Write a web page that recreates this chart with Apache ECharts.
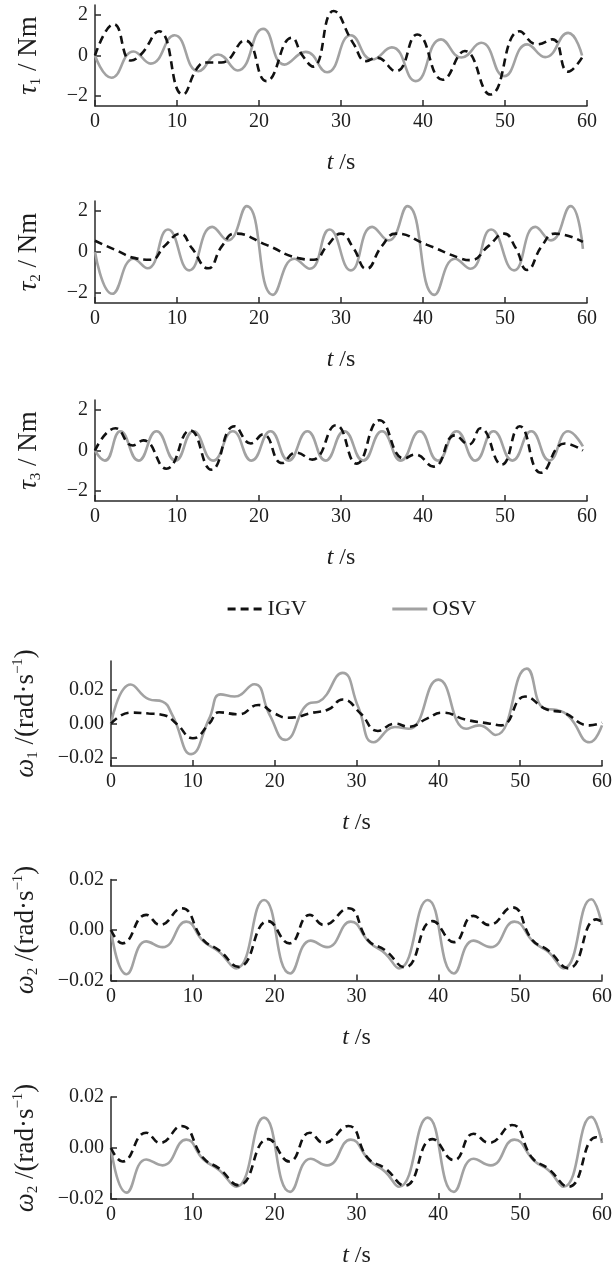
<!DOCTYPE html>
<html><head><meta charset="utf-8">
<script src="https://cdn.jsdelivr.net/npm/echarts@6/dist/echarts.min.js"></script>
<style>html,body{margin:0;padding:0;background:#fff}#c{width:615px;height:1270px}</style>
</head><body><div id="c"></div>
<script>
// ---------- data ----------
const xTicks = [0, 10, 20, 30, 40, 50, 60];
const tauTicks = [-2, 0, 2];
const omegaTicks = [-0.02, 0, 0.02];
const seriesNames = ['IGV', 'OSV'];

const tau1Igv = [[0,0],[2.3,1.55],[4.4,-0.25],[5.6,0.05],[7.8,1.2],[10.7,-1.93],[12.5,-0.6],[13.5,-0.35],[15.4,-0.35],[18.3,0.75],[20.9,-1.27],[24.0,0.88],[25.3,0.0],[26.6,-0.55],[29.1,2.2],[31.5,0.6],[33.1,-0.28],[34.3,-0.1],[36.7,-0.78],[39.3,1.04],[42.4,-1.2],[45.1,0.22],[48.2,-1.93],[51.8,1.2],[53.9,0.55],[55.8,0.8],[57.7,-0.8],[59.4,-0.1]];
const tau1Osv = [[0,0],[2.0,-1.1],[4.7,0.2],[6.8,-0.4],[9.7,1.0],[12.6,-0.78],[15.0,0.05],[17.4,-0.74],[20.5,1.32],[23.1,-0.45],[25.7,0.18],[28.3,-0.83],[31.2,1.0],[33.8,-0.2],[36.2,0.4],[39.1,-1.27],[42.2,0.8],[44.7,-0.1],[47.1,0.63],[49.9,-1.02],[52.7,0.55],[54.9,-0.08],[57.7,1.12],[59.4,0.0]];

const tau2Igv = [[0,0.55],[2.5,0.1],[4.9,-0.3],[6.8,-0.38],[8.5,0.3],[10.4,0.9],[11.8,0.2],[13.8,-0.8],[15.5,0.3],[17.1,0.9],[20.9,0.35],[24.8,-0.3],[26.7,-0.38],[28.3,0.3],[30.0,0.9],[31.5,0.2],[33.1,-0.82],[35.0,0.3],[36.7,0.9],[40.5,0.35],[44.5,-0.3],[45.8,-0.4],[48.0,0.3],[49.9,0.9],[51.3,0.2],[52.7,-0.88],[54.5,0.3],[56.1,0.9],[59.5,0.5]];
const tau2Osv = [[0,0],[2.1,-2.05],[4.7,-0.33],[6.4,-0.8],[8.9,1.1],[11.5,-0.9],[14.3,1.23],[16.2,0.57],[18.5,2.25],[21.7,-2.1],[24.3,-0.33],[26.2,-0.82],[28.6,1.1],[31.2,-0.9],[33.8,1.23],[35.8,0.57],[38.1,2.25],[41.4,-2.1],[43.9,-0.33],[45.8,-0.82],[48.3,1.1],[51.1,-0.9],[53.7,1.23],[55.6,0.57],[58.0,2.25],[59.5,0.15]];

const tau3Igv = [[0,0],[2.5,1.1],[4.6,0.25],[5.9,0.5],[8.7,-0.9],[11.6,1.0],[14.2,-0.95],[17.0,1.2],[19.0,0.35],[20.5,0.8],[22.8,-0.62],[24.5,-0.1],[26.5,-0.45],[29.4,1.25],[31.9,-0.65],[34.7,1.5],[37.7,-0.4],[39.0,-0.2],[41.3,-0.8],[43.9,0.75],[45.6,0.3],[47.0,1.1],[49.6,-0.7],[51.8,1.2],[54.4,-1.1],[57.3,0.35],[59.5,0.0]];
const tau3Osv = [[0,0],[1.2,-0.5],[3.1,0.95],[5.3,-0.5],[7.5,0.95],[9.8,-0.5],[12.0,0.95],[14.4,-0.5],[16.8,0.95],[19.1,-0.5],[21.4,0.95],[23.6,-0.5],[25.9,0.95],[28.1,-0.5],[30.4,0.95],[32.7,-0.5],[35.0,0.95],[37.3,-0.5],[39.6,0.95],[41.8,-0.5],[44.1,0.95],[46.4,-0.5],[48.6,0.95],[50.9,-0.5],[53.2,0.95],[55.4,-0.5],[57.7,0.95],[59.5,0.2]];

const omega1Igv = [[0,0],[2.4,0.0065],[4.6,0.006],[6.5,0.005],[8.0,0.0],[10.0,-0.0086],[12.0,0.0],[13.2,0.0067],[15.6,0.0055],[18.0,0.011],[20.0,0.006],[21.6,0.0035],[24.7,0.0065],[26.6,0.0085],[28.3,0.0143],[30.5,0.006],[32.6,-0.0043],[34.7,0.0],[36.4,-0.0018],[38.6,0.003],[40.5,0.0065],[43.4,0.0023],[46.3,0.0],[47.7,-0.001],[50.6,0.016],[53.2,0.0085],[55.3,0.0065],[58.5,-0.001],[60,0.0006]];
const omega1Osv = [[0,0],[2.4,0.0231],[4.6,0.0145],[6.3,0.013],[7.5,0.005],[9.8,-0.018],[12.0,0.003],[13.4,0.0173],[15.1,0.016],[17.5,0.0233],[19.4,0.005],[21.3,-0.0096],[24.2,0.012],[25.4,0.013],[28.3,0.030],[30.2,0.01],[32.1,-0.011],[34.7,-0.002],[36.4,-0.003],[40.0,0.026],[43.4,-0.003],[45.0,-0.001],[47.0,-0.0067],[50.8,0.0325],[52.9,0.009],[54.5,0.008],[56.0,0.004],[58.5,-0.011],[60,-0.001]];

const omega2Igv = [[0,0],[1.4,-0.0053],[4.3,0.006],[6.0,0.002],[8.6,0.0086],[11.3,-0.004],[13.2,-0.008],[15.6,-0.0146],[19.2,0.0035],[21.8,-0.0053],[24.3,0.006],[26.0,0.002],[29.0,0.0086],[31.4,-0.004],[33.5,-0.008],[35.9,-0.0148],[39.3,0.0035],[41.9,-0.0048],[44.3,0.0056],[46.2,0.002],[49.0,0.009],[51.5,-0.004],[53.4,-0.008],[55.9,-0.0152],[59.3,0.0042],[60,0.0033]];
const omega2Osv = [[0,0],[1.9,-0.0175],[4.3,-0.0045],[6.3,-0.0068],[9.2,0.0033],[11.3,-0.0045],[13.2,-0.0086],[15.3,-0.0152],[18.7,0.0119],[21.9,-0.0172],[24.4,-0.0042],[26.4,-0.0068],[29.3,0.0033],[31.6,-0.005],[33.5,-0.0093],[35.2,-0.0152],[38.7,0.0119],[41.9,-0.0172],[44.3,-0.0042],[46.4,-0.0068],[49.3,0.0033],[51.7,-0.005],[53.5,-0.0088],[55.3,-0.0152],[58.7,0.0122],[60,0.002]];

// ---------- layout / style ----------
const FONT = 'Liberation Serif';
const panels = [
  {igv: tau1Igv, osv: tau1Osv, left: 95, top: 5, height: 101, min: -2.5, max: 2.5, ticks: tauTicks, kind: 'tau', idx: '1'},
  {igv: tau2Igv, osv: tau2Osv, left: 95, top: 201, height: 102, min: -2.5, max: 2.5, ticks: tauTicks, kind: 'tau', idx: '2'},
  {igv: tau3Igv, osv: tau3Osv, left: 95, top: 400, height: 101, min: -2.5, max: 2.5, ticks: tauTicks, kind: 'tau', idx: '3'},
  {igv: omega1Igv, osv: omega1Osv, left: 111, top: 661, height: 105, min: -0.025, max: 0.037, ticks: omegaTicks, kind: 'omega', idx: '1'},
  {igv: omega2Igv, osv: omega2Osv, left: 111, top: 879.5, height: 101, min: -0.02, max: 0.02, ticks: omegaTicks, kind: 'omega', idx: '2'},
  {igv: omega2Igv, osv: omega2Osv, left: 111, top: 1097, height: 102, min: -0.02, max: 0.02, ticks: omegaTicks, kind: 'omega', idx: '2'}
];
const W = 492;
const AX = '#2a2a2a';
const TXT = '#1e1e1e';
const minus = s => String(s).replace('-', '\u2212');

const nameRich = {
  g: {fontFamily: FONT, fontSize: 27, fontStyle: 'italic', color: TXT, lineHeight: 30},
  n: {fontFamily: FONT, fontSize: 27, color: TXT, lineHeight: 30},
  sub: {fontFamily: FONT, fontSize: 15, color: TXT, lineHeight: 15, verticalAlign: 'bottom'},
  sup: {fontFamily: FONT, fontSize: 15, color: TXT, lineHeight: 15, verticalAlign: 'top'},
  i: {fontFamily: FONT, fontSize: 24, fontStyle: 'italic', color: TXT},
  x: {fontFamily: FONT, fontSize: 24, color: TXT}
};

const grid = [], xAxis = [], yAxis = [], series = [];
panels.forEach((p, i) => {
  grid.push({left: p.left, top: p.top, width: W, height: p.height, containLabel: false});
  xAxis.push({
    type: 'value', gridIndex: i, min: xTicks[0], max: xTicks[xTicks.length - 1], interval: xTicks[1] - xTicks[0],
    name: '{i|t}{x| /s}', nameLocation: 'middle', nameGap: 45, nameTextStyle: {rich: nameRich},
    axisLine: {show: true, onZero: false, lineStyle: {color: AX, width: 1.5}},
    axisTick: {show: true, inside: true, length: 6, lineStyle: {color: AX, width: 1.5}},
    axisLabel: {margin: 6, fontFamily: FONT, fontSize: 20, color: TXT},
    splitLine: {show: false}
  });
  const nm = p.kind === 'tau'
    ? '{g|τ}{sub|' + p.idx + '}{n| / Nm}'
    : '{g|ω}{sub|' + p.idx + '}{n| /(rad·s}{sup|\u22121}{n|)}';
  yAxis.push({
    type: 'value', gridIndex: i, min: p.min, max: p.max,
    name: nm, nameLocation: 'middle', nameRotate: 90, nameGap: p.kind === 'tau' ? 51 : 70,
    nameTextStyle: {rich: nameRich},
    axisLine: {show: true, onZero: false, lineStyle: {color: AX, width: 1.5}},
    axisTick: {show: true, inside: true, length: 6, customValues: p.ticks, lineStyle: {color: AX, width: 1.5}},
    axisLabel: {customValues: p.ticks, margin: 7, fontFamily: FONT, fontSize: 20, color: TXT,
      formatter: v => p.kind === 'tau' ? minus(Math.round(v)) : minus((Math.abs(v) < 1e-9 ? 0 : v).toFixed(2))},
    splitLine: {show: false}
  });
  series.push({
    type: 'line', name: seriesNames[1], xAxisIndex: i, yAxisIndex: i, data: p.osv,
    smooth: 0.5, symbol: 'none', showSymbol: false, z: 2,
    lineStyle: {color: '#a2a2a2', width: 2.6}, itemStyle: {color: '#a2a2a2'}
  });
  series.push({
    type: 'line', name: seriesNames[0], xAxisIndex: i, yAxisIndex: i, data: p.igv,
    smooth: 0.5, symbol: 'none', showSymbol: false, z: 3,
    lineStyle: {color: '#111', width: 2.6, type: [8, 5]}, itemStyle: {color: '#111'}
  });
});

const chart = echarts.init(document.getElementById('c'), null, {renderer: 'canvas'});
chart.setOption({
  backgroundColor: '#fff',
  animation: false,
  legend: {
    data: seriesNames, left: 221, top: 593, itemWidth: 35, itemHeight: 14, itemGap: 84,
    itemStyle: {opacity: 0},
    lineStyle: {width: 3.2},
    textStyle: {fontFamily: FONT, fontSize: 22, color: TXT}
  },
  grid, xAxis, yAxis, series
});
</script></body></html>
